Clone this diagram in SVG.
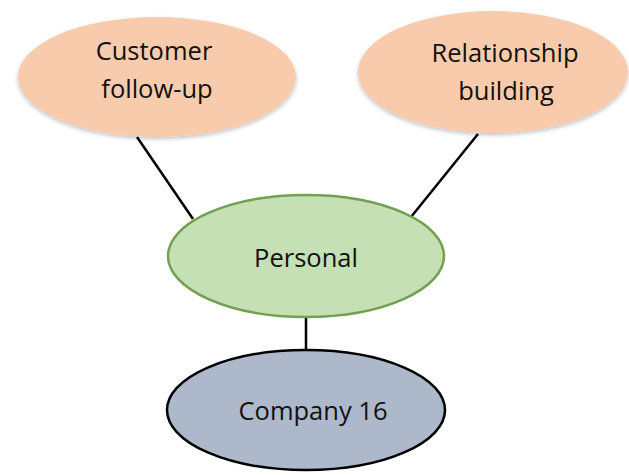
<svg xmlns="http://www.w3.org/2000/svg" width="629" height="475" viewBox="0 0 629 475">
  <defs>
    <filter id="soft" x="-10%" y="-10%" width="120%" height="130%">
      <feGaussianBlur in="SourceAlpha" stdDeviation="2"/>
      <feOffset dx="0" dy="2" result="b"/>
      <feComponentTransfer><feFuncA type="linear" slope="0.25"/></feComponentTransfer>
      <feMerge><feMergeNode/><feMergeNode in="SourceGraphic"/></feMerge>
    </filter>
  </defs>
  <style>
    .peach { fill: #f8cbad; filter: url(#soft); }
    .green { fill: #c5e0b4; stroke: #70a050; stroke-width: 2.5; }
    .slate { fill: #adb9ca; stroke: #000; stroke-width: 2.5; }
    .edge { stroke: #000; stroke-width: 2.5; fill: none; }
    text { font-family: "Open Sans", "Liberation Sans", sans-serif; font-size: 25.5px; fill: #111; text-anchor: middle; }
  </style>
  <rect width="629" height="475" fill="#fff"/>
  <g id="connectors">
    <line class="edge" x1="137" y1="137" x2="193" y2="219"/>
    <line class="edge" x1="478" y1="134" x2="411" y2="217"/>
    <line class="edge" x1="306" y1="317" x2="306" y2="350"/>
  </g>
  <g id="customer-follow-up">
    <ellipse class="peach" cx="157" cy="77" rx="139" ry="60"/>
    <text x="154" y="60">Customer</text>
    <text x="157" y="98">follow-up</text>
  </g>
  <g id="relationship-building">
    <ellipse class="peach" cx="493" cy="72" rx="135" ry="61"/>
    <text x="505" y="62">Relationship</text>
    <text x="506" y="100">building</text>
  </g>
  <g id="personal">
    <ellipse class="green" cx="306" cy="256" rx="138" ry="61"/>
    <text x="306" y="267">Personal</text>
  </g>
  <g id="company-16">
    <ellipse class="slate" cx="306" cy="410" rx="139" ry="60"/>
    <text x="313" y="420">Company 16</text>
  </g>
</svg>
